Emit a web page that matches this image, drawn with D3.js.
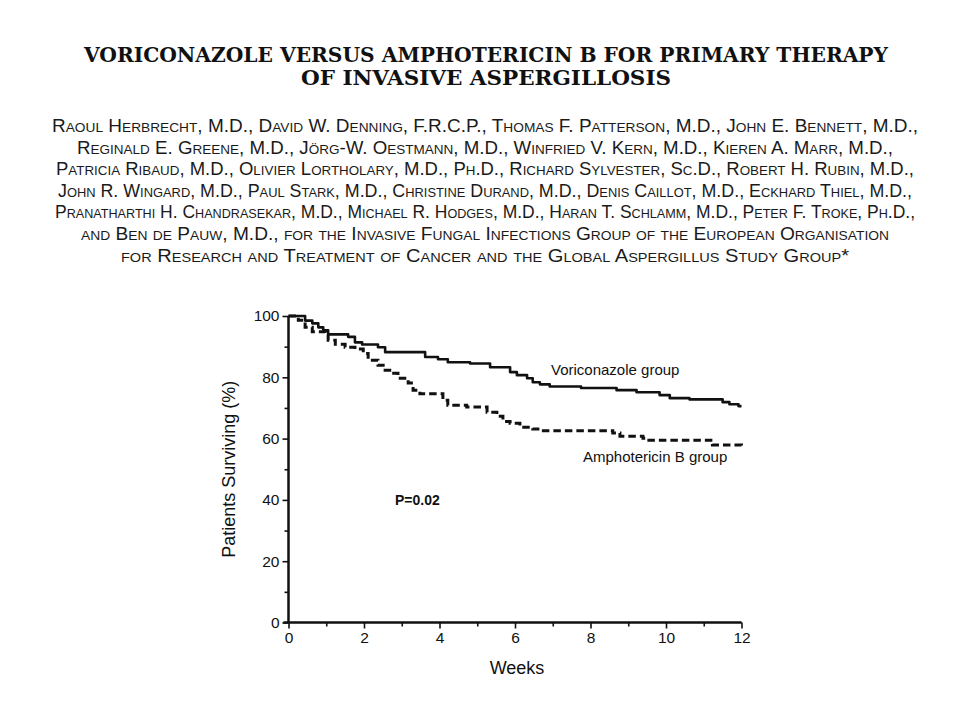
<!DOCTYPE html>
<html>
<head>
<meta charset="utf-8">
<script src="https://cdn.jsdelivr.net/npm/d3@7"></script>
<style>
  html, body { margin: 0; padding: 0; background: #fff; }
  svg { display: block; }
</style>
</head>
<body>
<svg id="chart" width="960" height="720"></svg>
<script>
// ---- Text ----
const titleLines = [
  "VORICONAZOLE VERSUS AMPHOTERICIN B FOR PRIMARY THERAPY",
  "OF INVASIVE ASPERGILLOSIS"
];
const authorLines = [
  "Raoul Herbrecht, M.D., David W. Denning, F.R.C.P., Thomas F. Patterson, M.D., John E. Bennett, M.D.,",
  "Reginald E. Greene, M.D., Jörg-W. Oestmann, M.D., Winfried V. Kern, M.D., Kieren A. Marr, M.D.,",
  "Patricia Ribaud, M.D., Olivier Lortholary, M.D., Ph.D., Richard Sylvester, Sc.D., Robert H. Rubin, M.D.,",
  "John R. Wingard, M.D., Paul Stark, M.D., Christine Durand, M.D., Denis Caillot, M.D., Eckhard Thiel, M.D.,",
  "Pranatharthi H. Chandrasekar, M.D., Michael R. Hodges, M.D., Haran T. Schlamm, M.D., Peter F. Troke, Ph.D.,",
  "and Ben de Pauw, M.D., for the Invasive Fungal Infections Group of the European Organisation",
  "for Research and Treatment of Cancer and the Global Aspergillus Study Group*"
];
const authorWidths = [866, 816, 858, 854, 860, 808, 728];

// ---- Data: Kaplan-Meier steps (week, % surviving) ----
const voriWeeks = [0, 0.44, 0.63, 0.79, 0.92, 1.05, 1.58, 1.76, 1.95, 2.37, 2.56, 3.62, 3.96, 4.22, 4.81, 5.34, 5.87, 6.05, 6.32, 6.47, 6.66, 6.92, 7.75, 8.69, 9.22, 9.83, 10.1, 10.62, 11.5, 11.68, 11.92, 12];
const voriSurv  = [100, 98.5, 97.6, 96.3, 95.3, 94.0, 93.2, 91.4, 90.7, 89.8, 88.2, 86.6, 85.9, 84.9, 84.5, 83.3, 81.7, 80.7, 79.7, 78.4, 77.7, 77.0, 76.5, 75.8, 75.1, 74.2, 73.2, 72.8, 71.9, 71.2, 70.6, 70.6];

const amphoWeeks = [0, 0.26, 0.44, 0.63, 0.97, 1.05, 1.24, 1.50, 1.76, 1.98, 2.11, 2.37, 2.56, 2.74, 2.90, 3.17, 3.30, 3.48, 4.09, 4.22, 4.72, 5.26, 5.52, 5.68, 5.87, 6.13, 6.47, 6.66, 8.59, 8.78, 9.39, 9.49, 11.23, 12];
const amphoSurv  = [100, 98.6, 96.3, 94.9, 93.9, 92.1, 90.8, 89.8, 89.2, 87.8, 85.6, 83.9, 82.3, 81.3, 79.7, 78.1, 75.8, 74.6, 72.5, 70.9, 70.3, 68.6, 67.3, 65.6, 65.0, 63.7, 63.1, 62.6, 61.8, 60.8, 60.1, 59.5, 57.9, 57.7];

const xTicks = [0, 2, 4, 6, 8, 10, 12];
const xMinorTicks = [1, 3, 5, 7, 9, 11];
const yTicks = [0, 20, 40, 60, 80, 100];
const yMinorTicks = [10, 30, 50, 70, 90];

const svg = d3.select("#chart");

// ---- Title ----
svg.append("g").selectAll("text").data(titleLines).join("text")
  .attr("x", 486)
  .attr("y", (d, i) => 62 + i * 23)
  .attr("text-anchor", "middle")
  .attr("font-family", "'DejaVu Serif Condensed', 'DejaVu Serif', 'Liberation Serif', serif")
  .attr("font-weight", "bold")
  .attr("font-size", 19.5)
  .attr("textLength", (d, i) => i === 0 ? 804 : 370)
  .attr("lengthAdjust", "spacingAndGlyphs")
  .attr("fill", "#111")
  .text(d => d);

// ---- Authors ----
svg.append("g").selectAll("text").data(authorLines).join("text")
  .attr("x", 485)
  .attr("y", (d, i) => 132 + i * 21.6)
  .attr("text-anchor", "middle")
  .attr("font-family", "'Liberation Sans', Arial, sans-serif")
  .attr("font-size", 18)
  .style("font-variant", "small-caps")
  .attr("textLength", (d, i) => authorWidths[i])
  .attr("lengthAdjust", "spacingAndGlyphs")
  .attr("fill", "#1a1a1a")
  .text(d => d);

// ---- Chart ----
const x0 = 288.5, x1 = 741.5, yTop = 316, yBot = 622.5;
const x = d3.scaleLinear().domain([0, 12]).range([x0, x1]);
const y = d3.scaleLinear().domain([0, 100]).range([yBot, yTop]);

const fontAxis = "'Liberation Sans', Arial, sans-serif";

// y axis
const gy = svg.append("g").attr("transform", `translate(${x0},0)`)
  .call(d3.axisLeft(y).tickValues(yTicks).tickSize(6).tickPadding(3).tickFormat(d3.format("d")));
gy.append("g").call(d3.axisLeft(y).tickValues(yMinorTicks).tickSize(4).tickFormat(""));
gy.selectAll(".domain").attr("stroke", "#111").attr("stroke-width", 2).attr("d", `M0,${yTop}V${yBot}`);
gy.selectAll(".tick line").attr("stroke", "#111").attr("stroke-width", 1.6);
gy.selectAll(".tick text").attr("font-family", fontAxis).attr("font-size", 15.5)
  .attr("fill", "#111").attr("font-weight", 500);

// x axis
const gx = svg.append("g").attr("transform", `translate(0,${yBot})`)
  .call(d3.axisBottom(x).tickValues(xTicks).tickSize(6).tickPadding(3).tickFormat(d3.format("d")));
gx.append("g").call(d3.axisBottom(x).tickValues(xMinorTicks).tickSize(4).tickFormat(""));
gx.selectAll(".domain").attr("stroke", "#111").attr("stroke-width", 2).attr("d", `M${x0 - 5},0H${x1}`);
gx.selectAll(".tick line").attr("stroke", "#111").attr("stroke-width", 1.6);
gx.selectAll(".tick text").attr("font-family", fontAxis).attr("font-size", 15.5)
  .attr("fill", "#111").attr("font-weight", 500);

// axis titles
svg.append("text")
  .attr("x", 517).attr("y", 674)
  .attr("text-anchor", "middle")
  .attr("font-family", fontAxis).attr("font-size", 18).attr("fill", "#111")
  .text("Weeks");
svg.append("text")
  .attr("transform", `translate(235,${(yTop + yBot) / 2}) rotate(-90)`)
  .attr("text-anchor", "middle")
  .attr("font-family", fontAxis).attr("font-size", 18).attr("fill", "#111")
  .text("Patients Surviving (%)");

// curves
const line = d3.line().curve(d3.curveStepAfter).x(d => x(d[0])).y(d => y(d[1]));
const voriData = voriWeeks.map((w, i) => [w, voriSurv[i]]);
const amphoData = amphoWeeks.map((w, i) => [w, amphoSurv[i]]);

svg.append("path").datum(amphoData)
  .attr("d", line).attr("fill", "none").attr("stroke", "#111")
  .attr("stroke-width", 3).attr("stroke-dasharray", "7.5,4");
svg.append("path").datum(voriData)
  .attr("d", line).attr("fill", "none").attr("stroke", "#111")
  .attr("stroke-width", 2.6).attr("stroke-linejoin", "round");

// labels
svg.append("text").attr("x", 551).attr("y", 375)
  .attr("font-family", fontAxis).attr("font-size", 15).attr("fill", "#111")
  .text("Voriconazole group");
svg.append("text").attr("x", 583).attr("y", 462)
  .attr("font-family", fontAxis).attr("font-size", 15).attr("fill", "#111")
  .text("Amphotericin B group");
svg.append("text").attr("x", 395).attr("y", 505)
  .attr("font-family", fontAxis).attr("font-size", 14).attr("font-weight", "bold").attr("fill", "#111")
  .text("P=0.02");
</script>
</body>
</html>
